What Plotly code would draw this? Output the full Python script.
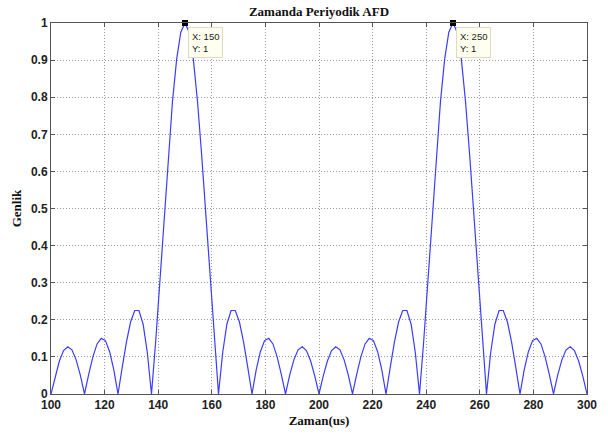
import plotly.graph_objects as go

# time samples (us)
zaman = [100 + 1.5625 * i for i in range(129)]

# amplitude (one period 100-200, repeated for 200-300)
genlik_period = [
    0, .048, .089, .117, .127, .119, .092, .051, 0,
    .053, .100, .135, .150, .144, .114, .065, 0,
    .071, .139, .194, .225, .225, .188, .112, 0,
    .142, .305, .475, .641, .787, .902, .975, 1, .975, .902, .787, .641, .475, .305, .142, 0,
    .112, .188, .225, .225, .194, .139, .071, 0,
    .065, .114, .144, .150, .135, .100, .053, 0,
    .051, .092, .119, .127, .117, .089, .048, 0,
]
genlik = genlik_period + [
    .048, .089, .117, .127, .119, .092, .051, 0,
    .053, .100, .135, .150, .144, .114, .065, 0,
    .071, .139, .194, .225, .225, .188, .112, 0,
    .142, .305, .475, .641, .787, .902, .975, 1, .975, .902, .787, .641, .475, .305, .142, 0,
    .112, .188, .225, .225, .194, .139, .071, 0,
    .065, .114, .144, .150, .135, .100, .053, 0,
    .051, .092, .119, .127, .117, .089, .048, 0,
]

tip_x = [150, 250]
tip_y = [1, 1]

x_ticks = [100, 120, 140, 160, 180, 200, 220, 240, 260, 280, 300]
y_ticks = [0, 0.1, 0.2, 0.3, 0.4, 0.5, 0.6, 0.7, 0.8, 0.9, 1]

fig = go.Figure()
fig.add_trace(go.Scatter(x=zaman, y=genlik, mode="lines",
                         line=dict(color="#3c3cff", width=1.2),
                         hoverinfo="skip", showlegend=False))
fig.add_trace(go.Scatter(x=tip_x, y=tip_y, mode="markers",
                         marker=dict(symbol="square", size=6, color="black"),
                         cliponaxis=False, showlegend=False))

for tx, ty in zip(tip_x, tip_y):
    fig.add_annotation(x=tx, y=ty, xref="x", yref="y",
                       text=f"X: {tx}<br>Y: {ty}", showarrow=False,
                       xanchor="left", yanchor="top", xshift=3, yshift=-4,
                       align="left",
                       font=dict(family="Liberation Sans, Arial", size=9.5, color="#222"),
                       bgcolor="#fffff0", bordercolor="#e0dcc0", borderwidth=1, borderpad=3)

axis_common = dict(showline=True, linecolor="#555", linewidth=1, mirror="ticks",
                   ticks="inside", ticklen=4, tickcolor="#555",
                   showgrid=True, gridcolor="#9a9a9a", griddash="1px,2px", gridwidth=1,
                   zeroline=False,
                   tickfont=dict(family="Liberation Sans, Arial", size=12, color="#222", weight="bold"))

fig.update_xaxes(range=[100, 300], tickvals=x_ticks, ticktext=[str(v) for v in x_ticks],
                 title=dict(text="Zaman(us)", standoff=4,
                            font=dict(family="Liberation Serif, Times New Roman", size=13,
                                      color="#111", weight="bold")),
                 **axis_common)
fig.update_yaxes(range=[0, 1], tickvals=y_ticks,
                 ticktext=["0", "0.1", "0.2", "0.3", "0.4", "0.5", "0.6", "0.7", "0.8", "0.9", "1"],
                 title=dict(text="Genlik", standoff=6,
                            font=dict(family="Liberation Serif, Times New Roman", size=13,
                                      color="#111", weight="bold")),
                 **axis_common)

fig.update_layout(
    width=608, height=437,
    margin=dict(l=51, r=11, t=23, b=40),
    paper_bgcolor="white", plot_bgcolor="white",
    title=dict(text="Zamanda Periyodik AFD", x=0.5, xref="paper", y=0.985, yanchor="top",
               font=dict(family="Liberation Serif, Times New Roman", size=13,
                         color="#111", weight="bold")),
    showlegend=False,
)

fig.write_html("out.html")
